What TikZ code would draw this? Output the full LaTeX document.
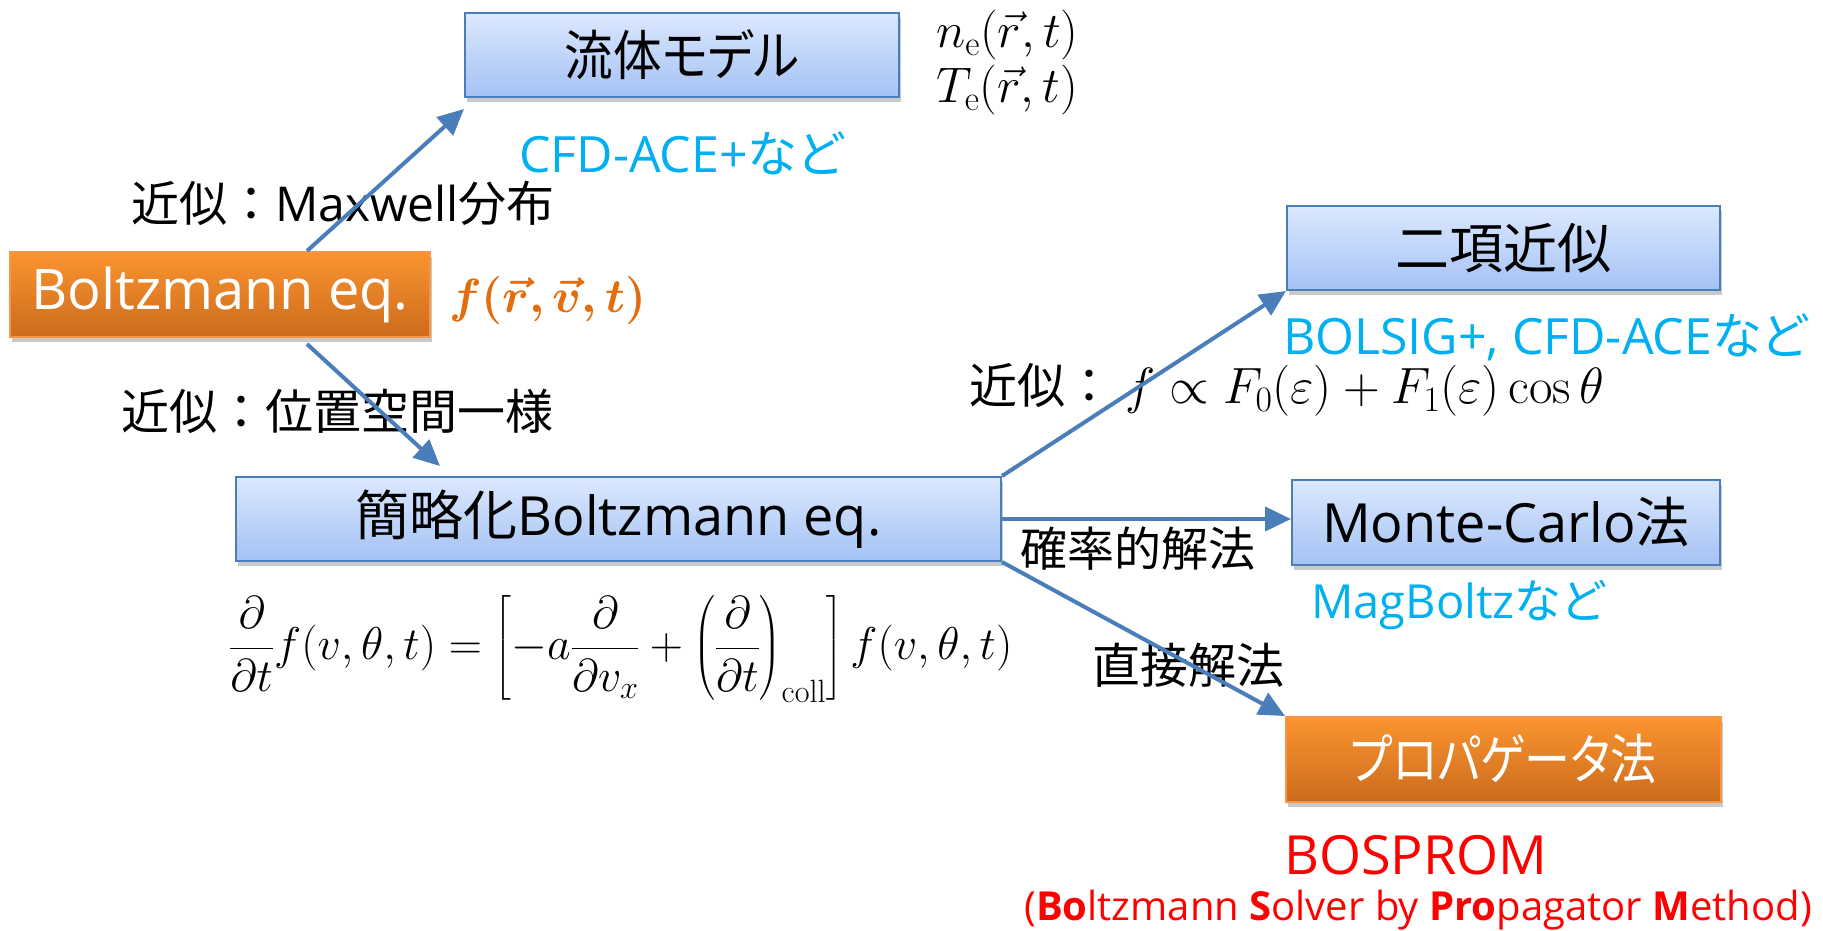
\RequirePackage{fix-cm}
\documentclass[tikz,border=0pt]{standalone}
\usepackage{amsmath}
\usepackage{bm}
\usepackage{graphicx}
\usepackage[no-math]{fontspec}
\setmainfont{Open Sans}
\newfontfamily\jp{Noto Sans CJK JP}
\newfontfamily\jpk[RawFeature=+palt]{Noto Sans CJK JP}
\usetikzlibrary{arrows.meta,shadows,calc}
\definecolor{bbord}{HTML}{4A7EBB}
\definecolor{btop}{HTML}{DCE8FE}
\definecolor{bbot}{HTML}{A4C2F4}
\definecolor{otop}{HTML}{FA9530}
\definecolor{obot}{HTML}{CC6A1C}
\definecolor{obord}{HTML}{F79646}
\definecolor{cyanT}{HTML}{00B0F0}
\definecolor{orgT}{HTML}{E46C0A}
\definecolor{arrc}{HTML}{4A7EBB}
\definecolor{redT}{HTML}{FF0000}
\tikzset{
  boxbase/.style={rectangle, inner sep=0pt, line width=2pt,
    drop shadow={shadow xshift=2pt, shadow yshift=-5pt, opacity=0.3, fill=black!70},
    font=\fontsize{54}{60}\selectfont},
  bluebox/.style={boxbase, draw=bbord, top color=btop, bottom color=bbot, text=black},
  orangebox/.style={boxbase, draw=obord, top color=otop, bottom color=obot, text=white},
  lbl/.style={anchor=west, inner sep=0pt, font=\fontsize{48}{52}\selectfont},
  mth/.style={anchor=west, inner sep=0pt, font=\fontsize{50}{56}\selectfont},
  arr/.style={draw=arrc, line width=4pt, -{Triangle[length=26pt,width=24pt]}},
}
\begin{document}
\begin{tikzpicture}[x=1pt,y=-1pt]
\useasboundingbox (0,0) rectangle (1823,930);
% boxes
\node[bluebox, minimum width=434pt, minimum height=84pt] (fluid) at (682,55) {\scalebox{0.9}[1]{\jpk 流体モデル}};
\node[orangebox, minimum width=420pt, minimum height=85pt, font=\fontsize{56}{60}\selectfont] (boltz) at (220,294.5) {Boltzmann eq.};
\node[bluebox, minimum width=765pt, minimum height=84pt] (simp) at (618.5,519) {{\jp 簡略化}Boltzmann eq.};
\node[bluebox, minimum width=433pt, minimum height=84pt] (nikou) at (1503.5,248) {\jp 二項近似};
\node[bluebox, minimum width=428pt, minimum height=85pt] (mc) at (1506,522.5) {Monte-Carlo{\jp 法}};
\node[orangebox, minimum width=435pt, minimum height=85pt] (prop) at (1503.5,759.5) {\scalebox{0.85}[1]{\jpk プロパゲータ法}};
% math
\node[mth] (ne) at (936,35) {$n_{\mathrm{e}}(\vec{r},t)$};
\node[mth] (te) at (936,90) {$T_{\mathrm{e}}(\vec{r},t)$};
\node[mth, text=orgT, font=\fontsize{48}{52}\selectfont] (fdist) at (449,300) {$\bm{f(\vec{r},\vec{v},t)}$};
\node[mth, font=\fontsize{46}{50}\selectfont] (eq) at (229,649) {$\displaystyle \frac{\partial}{\partial t} f(v,\theta,t) = \left[-a\frac{\partial}{\partial v_x} + \left(\frac{\partial}{\partial t}\right)_{\mathrm{coll}}\right] f(v,\theta,t)$};
% labels
\node[lbl] (maxw) at (131,203) {{\jp 近似：}Maxwell{\jp 分布}};
\node[lbl, text=cyanT, font=\fontsize{50}{54}\selectfont] (cfd) at (519,153) {CFD-ACE+{\jpk など}};
\node[lbl] (pos) at (121,411) {\jp 近似：位置空間一様};
\node[lbl] (nkl) at (969,390) {{\jp 近似：}\hspace{12pt}{\fontsize{51}{56}\selectfont$f\propto F_0(\varepsilon)+F_1(\varepsilon)\cos\theta$}};
\node[lbl, text=cyanT, font=\fontsize{50}{54}\selectfont] (bols) at (1283,337) {BOLSIG+, CFD-ACE{\jpk など}};
\node[lbl, font=\fontsize{47}{52}\selectfont] (prob) at (1020,549) {\jp 確率的解法};
\node[lbl, text=cyanT, font=\fontsize{47}{52}\selectfont] (mag) at (1311,605) {MagBoltz{\jpk など}};
\node[lbl] (dir) at (1092,665) {\jp 直接解法};
\node[lbl, text=redT, font=\fontsize{54}{60}\selectfont] (bosprom) at (1284,855) {BOSPROM};
\node[lbl, text=redT, font=\fontsize{40}{46}\selectfont] (bospfull) at (1024,910) {(\textbf{Bo}ltzmann \textbf{S}olver by \textbf{Pro}pagator \textbf{M}ethod)};
% arrows
\draw[arr] ($(boltz.north west)+(298,0)$) -- ($(fluid.south west)+(0,11)$);
\draw[arr] ($(boltz.south west)+(298,6)$) -- ($(simp.north west)+(205,-10)$);
\draw[arr] (simp.north east) -- (nikou.south west);
\draw[arr] (simp.east) -- (simp.east -| mc.west);
\draw[arr] (simp.south east) -- (prop.north west);
\end{tikzpicture}
\end{document}
